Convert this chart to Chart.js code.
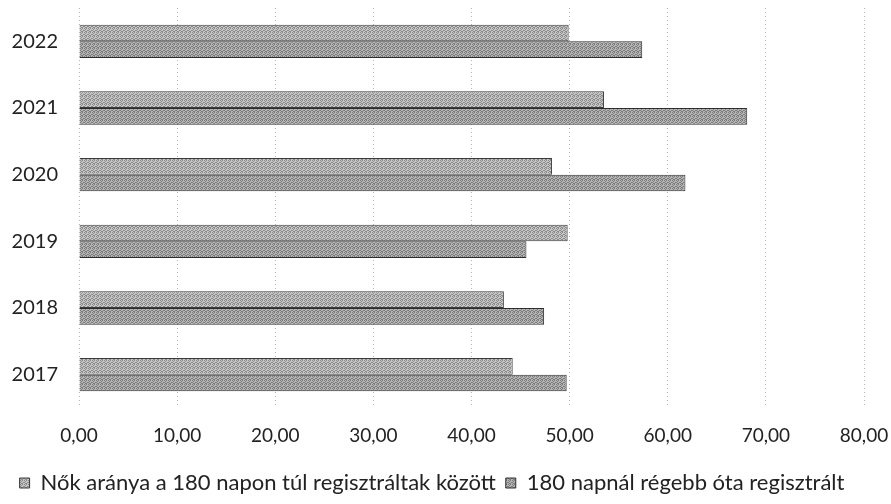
<!DOCTYPE html>
<html>
<head>
<meta charset="utf-8">
<script src="https://cdn.jsdelivr.net/npm/chart.js@4.4.1/dist/chart.umd.min.js"></script>
<style>
  html, body { margin: 0; padding: 0; background: #fff; }
  #wrap { width: 891px; height: 504px; }
</style>
</head>
<body>
<div id="wrap"><canvas id="barChart" width="891" height="504"></canvas></div>
<script>
const years = ['2022', '2021', '2020', '2019', '2018', '2017'];
const womenShare = [49.9, 53.5, 48.2, 49.8, 43.3, 44.2];
const longTerm = [57.4, 68.1, 61.8, 45.6, 47.4, 49.7];
const seriesNames = ['Nők aránya a 180 napon túl regisztráltak között', '180 napnál régebb óta regisztrált'];
const xTicks = [0, 10, 20, 30, 40, 50, 60, 70, 80];

const fontFamily = "Lato, 'Open Sans', sans-serif";

// small dithered grey texture like the scanned hatch fill
function makePattern(light, dark) {
    const c = document.createElement('canvas');
    c.width = 4;
    c.height = 4;
    const g = c.getContext('2d');
    g.fillStyle = light;
    g.fillRect(0, 0, 4, 4);
    g.fillStyle = dark;
    [[0, 0], [2, 0], [1, 1], [3, 2], [0, 2], [2, 3], [1, 3]].forEach(p => g.fillRect(p[0], p[1], 1, 1));
    return g.createPattern(c, 'repeat');
}

const ctx = document.getElementById('barChart');

new Chart(ctx, {
    type: 'bar',
    data: {
        labels: years,
        datasets: [
            {
                label: seriesNames[0],
                data: womenShare,
                backgroundColor: makePattern('#c6c6c6', '#8a8a8a'),
                borderColor: '#3a3a3a',
                borderWidth: 1,
                categoryPercentage: 0.5,
                barPercentage: 1.0
            },
            {
                label: seriesNames[1],
                data: longTerm,
                backgroundColor: makePattern('#b6b6b6', '#7a7a7a'),
                borderColor: '#2e2e2e',
                borderWidth: 1,
                categoryPercentage: 0.5,
                barPercentage: 1.0
            }
        ]
    },
    options: {
        indexAxis: 'y',
        responsive: false,
        animation: false,
        layout: {
            padding: { top: 8, right: 27, left: 0, bottom: 0 }
        },
        plugins: {
            legend: {
                position: 'bottom',
                labels: {
                    color: '#222',
                    boxWidth: 10,
                    boxHeight: 10,
                    padding: 10,
                    font: { family: fontFamily, size: 22 }
                }
            },
            tooltip: { enabled: false }
        },
        scales: {
            x: {
                min: 0,
                max: 80,
                afterBuildTicks: axis => {
                    axis.ticks = xTicks.map(v => ({ value: v }));
                },
                afterFit: axis => {
                    axis.height = 54;
                    axis.paddingLeft = 0;
                    axis.paddingRight = 0;
                },
                ticks: {
                    color: '#222',
                    padding: 16,
                    font: { family: fontFamily, size: 19 },
                    callback: v => v.toFixed(2).replace('.', ',')
                },
                grid: {
                    color: '#b5b5b5',
                    drawTicks: false
                },
                border: { display: false, dash: [1, 3] }
            },
            y: {
                afterFit: axis => {
                    axis.width = 79;
                    axis.paddingTop = 0;
                    axis.paddingBottom = 0;
                },
                ticks: {
                    color: '#222',
                    padding: 21,
                    font: { family: fontFamily, size: 20 }
                },
                grid: { display: false, drawTicks: false },
                border: { display: false }
            }
        }
    }
});
</script>
</body>
</html>
